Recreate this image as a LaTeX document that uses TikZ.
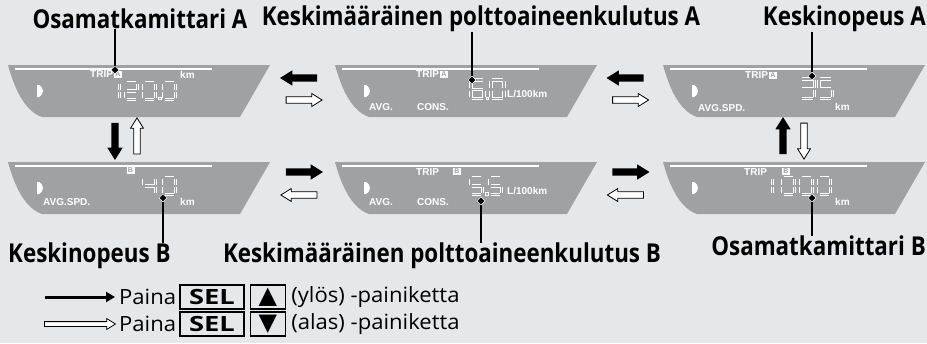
\documentclass[tikz,border=0pt]{standalone}
\usepackage{fontspec}
\setmainfont{Open Sans}[FakeStretch=1.05]
\newfontfamily\lcdfont{Liberation Sans}
\newfontfamily\lblfont{Open Sans}[FakeStretch=0.86]
\newfontfamily\keyfont{Open Sans}[FakeStretch=1.3]
\newfontfamily\symfont{DejaVu Sans}
\usetikzlibrary{shapes.geometric, shapes.arrows, arrows.meta, positioning}

\definecolor{bggray}{HTML}{E6E7E8}
\definecolor{dispgray}{HTML}{A0A1A3}

\tikzset{
  sega/.style={insert path={(2,0.8) -- (11,0.8)}},
  segb/.style={insert path={(12.2,2) -- (12.2,8)}},
  segc/.style={insert path={(12.2,10) -- (12.2,16)}},
  segd/.style={insert path={(2,17.2) -- (11,17.2)}},
  sege/.style={insert path={(0.8,10) -- (0.8,16)}},
  segf/.style={insert path={(0.8,2) -- (0.8,8)}},
  segg/.style={insert path={(2,9) -- (11,9)}},
}

% one seven segment digit: [scale]{x}{y}{segments}
\newcommand{\segdigit}[4][1]{%
  \begin{scope}[shift={(#2,#3)}, scale=#1]
    \foreach \s in {#4} {\draw[seg, seg\s];}
  \end{scope}}

% grey display panel at its top left corner
\newcommand{\lcdpanel}[2]{%
  \begin{scope}[shift={(#1,#2)}]
    \fill[dispgray] (0,0) -- (262,0) -- (232,52) -- (34,52)
      .. controls (16,46) and (6,22) .. (0,0) -- cycle;
    \draw[white, line width=1.2pt] (7,4) -- (204,4);
    \fill[white] (29,20) -- (31,20) .. controls (34,22) and (35,24) .. (35,26)
      .. controls (35,28) and (34,30) .. (31,32) -- (29,32) -- cycle;
  \end{scope}}

\begin{document}
\begin{tikzpicture}[x=1pt, y=-1pt,
    seg/.style={draw=white, double=dispgray, line width=0.9pt, double distance=1.4pt},
    dpoint/.style={draw=white, line width=0.8pt},
    lcd/.style={font={\fontsize{10}{11}\lcdfont\bfseries}, text=white, inner sep=0pt, anchor=west},
    tripbox/.style={fill=white, text=dispgray, font={\fontsize{7}{7}\lcdfont\bfseries},
      inner sep=0.5pt, minimum width=8pt, minimum height=7pt},
    callout/.style={font={\fontsize{26}{28}\lblfont\bfseries}, inner sep=0pt},
    pointer/.style={line width=1.3pt},
    tipmark/.style={diamond, fill=black, draw=white, line width=0.5pt, inner sep=0pt, minimum size=8pt},
    blackarrow/.style={single arrow, fill=black, inner xsep=0pt, inner ysep=3.5pt, minimum height=37pt,
      minimum width=15pt, single arrow head extend=4pt, single arrow tip angle=64},
    whitearrow/.style={single arrow, draw=black, fill=white, line width=0.8pt, inner xsep=0pt,
      inner ysep=2.8pt, minimum height=36pt, minimum width=13pt, single arrow head extend=3.2pt,
      single arrow tip angle=64},
    legend/.style={font={\fontsize{21}{23}\selectfont}, inner sep=0pt},
    keybox/.style={draw, line width=1.4pt, minimum height=24pt, inner xsep=3pt, inner ysep=0pt,
      font={\fontsize{21}{23}\selectfont}},
  ]
  \fill[bggray] (0,0) rectangle (927,343);
  \useasboundingbox (0,0) rectangle (927,343);

  % displays
  \lcdpanel{8}{65}
  \lcdpanel{335}{65}
  \lcdpanel{663}{65}
  \lcdpanel{8}{162}
  \lcdpanel{335}{162}
  \lcdpanel{663}{162}

  % trip meter A
  \node[lcd] (tripOdoA) at (90,74.5) {TRIP};
  \node[tripbox, right=0.5pt of tripOdoA] (boxOdoA) {A};
  \node[lcd] (kmOdoA) at (180,74.5) {km};
  \segdigit{107}{82}{b,c}
  \segdigit{125}{82}{a,b,g,e,d}
  \segdigit{143}{82}{a,b,c,d,e,f}
  \draw[dpoint] (158.5,97) rectangle +(2.5,2.5);
  \segdigit{163}{82}{a,b,c,d,e,f}

  % average fuel consumption A
  \node[lcd] (tripConsA) at (416,74.5) {TRIP};
  \node[tripbox, right=0.5pt of tripConsA] (boxConsA) {A};
  \segdigit[1.15]{470}{79}{a,f,g,e,d,c}
  \draw[dpoint] (486,97) rectangle +(2.5,2.5);
  \segdigit[1.15]{490}{79}{a,b,c,d,e,f}
  \node[lcd] (unitConsA) at (507,94) {L/100km};
  \node[lcd] (avgConsA) at (369,107) {AVG.};
  \node[lcd] (consConsA) at (417,107) {CONS.};

  % average speed A
  \node[lcd] (tripSpdA) at (745,75) {TRIP};
  \node[tripbox, right=0.5pt of tripSpdA] (boxSpdA) {A};
  \segdigit[1.2]{800}{78}{a,b,g,c,d}
  \segdigit[1.2]{818}{78}{a,f,g,c,d}
  \node[lcd] (kmSpdA) at (835,107) {km};
  \node[lcd] (avgSpdA) at (698,108) {AVG.SPD.};

  % average speed B
  \node[tripbox] (boxSpdB) at (130.5,170.5) {B};
  \segdigit{143}{177}{f,g,b,c}
  \segdigit{163}{177}{a,b,c,d,e,f}
  \node[lcd] (avgSpdB) at (43,202) {AVG.SPD.};
  \node[lcd] (kmSpdB) at (180,202) {km};

  % average fuel consumption B
  \node[lcd] (tripConsB) at (416,172) {TRIP};
  \node[tripbox] (boxConsB) at (457,171) {B};
  \segdigit{470}{177}{a,f,g,c,d}
  \draw[dpoint] (485.5,192.5) rectangle +(2.5,2.5);
  \segdigit{489}{177}{a,f,g,c,d}
  \node[lcd] (unitConsB) at (507,191) {L/100km};
  \node[lcd] (avgConsB) at (369,202) {AVG.};
  \node[lcd] (consConsB) at (417,202) {CONS.};

  % trip meter B
  \node[lcd] (tripOdoB) at (744,172) {TRIP};
  \node[tripbox] (boxOdoB) at (786,171) {B};
  \segdigit{760}{177}{b,c}
  \segdigit{782}{177}{a,b,c,d,e,f}
  \segdigit{800}{177}{a,b,c,d,e,f}
  \segdigit{818}{177}{a,b,c,d,e,f}
  \node[lcd] (kmOdoB) at (835,202) {km};

  % arrows between the displays
  \node[blackarrow, rotate=180] (upA12) at (301.5,78) {};
  \node[whitearrow] (dnA12) at (301.5,100) {};
  \node[blackarrow, rotate=180] (upA23) at (628,78) {};
  \node[whitearrow] (dnA23) at (628,100) {};
  \node[blackarrow] (upB12) at (301.5,172) {};
  \node[whitearrow, rotate=180] (dnB12) at (301.5,195) {};
  \node[blackarrow] (upB23) at (628,172) {};
  \node[whitearrow, rotate=180] (dnB23) at (628,195) {};
  \node[blackarrow, rotate=-90] (upLeft) at (115,138.5) {};
  \node[whitearrow, rotate=90] (dnLeft) at (137,138.5) {};
  \node[blackarrow, rotate=90] (upRight) at (783,138.5) {};
  \node[whitearrow, rotate=-90] (dnRight) at (804,138.5) {};

  % labels and pointers
  \node[callout] (lblOdoA) at (140,19) {Osamatkamittari A};
  \node[callout] (lblConsA) at (481,19) {Keskimääräinen polttoaineenkulutus A};
  \node[callout, anchor=east] (lblSpdA) at (926,19) {Keskinopeus A};
  \node[callout, anchor=west] (lblSpdB) at (8,256) {Keskinopeus B};
  \node[callout] (lblConsB) at (442,256) {Keskimääräinen polttoaineenkulutus B};
  \node[callout, anchor=east] (lblOdoB) at (926,246) {Osamatkamittari B};

  \node[tipmark] (tipOdoA) at (115,70) {};
  \node[tipmark] (tipConsA) at (472,80) {};
  \node[tipmark] (tipSpdA) at (812,76) {};
  \node[tipmark] (tipSpdB) at (163,198) {};
  \node[tipmark] (tipConsB) at (481,201) {};
  \node[tipmark] (tipOdoB) at (812,198) {};
  \draw[pointer] (tipOdoA.north) -- (tipOdoA |- lblOdoA.south);
  \draw[pointer] (tipConsA.north) -- (tipConsA |- lblConsA.south);
  \draw[pointer] (tipSpdA.north) -- (tipSpdA |- lblSpdA.south);
  \draw[pointer] (tipSpdB.south) -- (tipSpdB |- lblSpdB.north);
  \draw[pointer] (tipConsB.south) -- (tipConsB |- lblConsB.north);
  \draw[pointer] (tipOdoB.south) -- (tipOdoB |- lblOdoB.north);

  % legend
  \coordinate (keyUpA) at (45,297);
  \coordinate (keyUpB) at (115,297);
  \draw[line width=3pt, -{Triangle[length=9pt, width=10pt]}] (keyUpA) -- (keyUpB);
  \node[legend, anchor=west] (txtUp) at (119,297) {Paina};
  \node[keybox, minimum width=64pt, right=3pt of txtUp] (selUp) {\keyfont\bfseries SEL};
  \node[keybox, minimum width=35pt, right=5pt of selUp] (triUp) {\fontsize{24}{24}\symfont ▲};
  \node[legend, right=5pt of triUp] (endUp) {(ylös) -painiketta};

  \node[whitearrow, minimum height=71pt, minimum width=10pt, inner ysep=2pt,
    single arrow head extend=3pt] (keyDn) at (78,324) {};
  \node[legend, anchor=west] (txtDn) at (119,324) {Paina};
  \node[keybox, minimum width=64pt, right=3pt of txtDn] (selDn) {\keyfont\bfseries SEL};
  \node[keybox, minimum width=35pt, right=5pt of selDn] (triDn) {\fontsize{24}{24}\symfont ▼};
  \node[legend, right=5pt of triDn] (endDn) {(alas) -painiketta};
\end{tikzpicture}
\end{document}
